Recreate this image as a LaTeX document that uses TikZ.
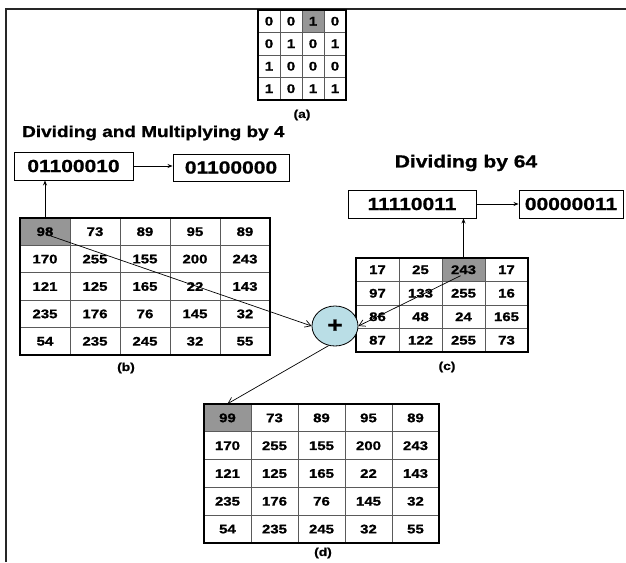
\documentclass[tikz,border=0pt]{standalone}
\usepackage{fontspec}
\setmainfont[FakeStretch=1.2, BoldFeatures={FakeBold=1}]{Liberation Sans}
\usetikzlibrary{arrows.meta,calc,shapes.geometric}
\definecolor{cellgray}{RGB}{150,150,150}
\definecolor{plusblue}{RGB}{186,222,230}
\definecolor{innerline}{RGB}{90,90,90}
\newcommand{\numgrid}[8]{%
  \foreach \i in {1,...,\numexpr#6-1\relax} \draw[gridin] (#2+\i*#4,#3) -- ++(0,#7*#5);
  \foreach \j in {1,...,\numexpr#7-1\relax} \draw[gridin] (#2,#3+\j*#5) -- ++(#6*#4,0);
  \draw[gridout] (#2,#3) rectangle ++(#6*#4,#7*#5);
  \foreach \row [count=\r] in {#8} {
    \foreach \v [count=\c] in \row {
      \node[cell, minimum width=#4, minimum height=#5] (#1-\r-\c) at (#2+\c*#4-0.5*#4, #3+\r*#5-0.5*#5) {\v};
    }
  }
}
\begin{document}
\begin{tikzpicture}[x=1pt,y=-1pt,
  cell/.style={inner sep=0pt, font=\bfseries\fontsize{12.5}{14}\selectfont},
  gridin/.style={draw=innerline, line width=0.9pt},
  gridout/.style={draw=black, line width=2.4pt},
  box/.style={draw=black, line width=0.9pt, inner sep=0pt, font=\bfseries\fontsize{17.5}{19}\selectfont},
  sub/.style={inner sep=0pt, font=\bfseries\fontsize{11.5}{13}\selectfont},
  title/.style={inner sep=0pt, font=\bfseries\fontsize{15.8}{18}\selectfont},
  harr/.style={-{Stealth[length=5pt,width=4pt]}, line width=0.8pt},
  darr/.style={-{Straight Barb[length=6pt,width=7pt]}, line width=0.7pt}
]
\useasboundingbox (0,0) rectangle (626,562);
% frame
\draw[line width=2.2pt, draw=black!85] (6,562) -- (6,9) -- (627,9);

% matrix (a)
\fill[cellgray] (302,10) rectangle ++(22,22.5);
\numgrid{a}{258}{10}{22}{22.5}{4}{4}{{0,0,1,0},{0,1,0,1},{1,0,0,0},{1,0,1,1}}
\node[sub] (la) at (302,115) {(a)};

% title left
\node[title, anchor=west] (t1) at (22,133) {Dividing and Multiplying by 4};
\node[box, minimum width=119, minimum height=28] (box1) at (73.5,166) {01100010};
\node[box, minimum width=116, minimum height=27] (box2) at (231,167.5) {01100000};
\draw[harr] (box1.east) -- (box2.west |- box1.east);

% matrix (b)
\fill[cellgray] (20,218) rectangle ++(50,27.4);
\numgrid{b}{20}{218}{50}{27.4}{5}{5}{{98,73,89,95,89},{170,255,155,200,243},{121,125,165,22,143},{235,176,76,145,32},{54,235,245,32,55}}
\node[sub] (lb) at (126,368) {(b)};
\draw[harr] (b-1-1.north) -- (b-1-1.north |- box1.south);

% title right
\node[title, font=\bfseries\fontsize{17.5}{19}\selectfont] (t2) at (466,163) {Dividing by 64};
\node[box, minimum width=128, minimum height=28] (box3) at (412,204) {11110011};
\node[box, minimum width=104, minimum height=28] (box4) at (571,204) {00000011};
\draw[harr] (box3.east) -- (box4.west);

% matrix (c)
\fill[cellgray] (442,258) rectangle ++(43,23.5);
\numgrid{c}{356}{258}{43}{23.5}{4}{4}{{17,25,243,17},{97,133,255,16},{86,48,24,165},{87,122,255,73}}
\node[sub] (lc) at (447,367) {(c)};
\draw[harr] (c-1-3.north) -- (c-1-3.north |- box3.south);

% plus
\node[ellipse, draw=black, line width=0.8pt, fill=plusblue, minimum width=46, minimum height=40, inner sep=0pt, font=\bfseries\fontsize{22}{22}\selectfont] (plus) at (335,326) {+};

% matrix (d)
\fill[cellgray] (204,404) rectangle ++(47,27.8);
\numgrid{d}{204}{404}{47}{27.8}{5}{5}{{99,73,89,95,89},{170,255,155,200,243},{121,125,165,22,143},{235,176,76,145,32},{54,235,245,32,55}}
\node[sub] (ld) at (323,553) {(d)};

% arrows to / from plus
\draw[darr] ($(b-1-1.center)+(5,4)$) -- (plus.west);
\draw[darr] ($(c-1-3.center)+(-3,6)$) -- (plus.east);
\draw[darr] (plus.-108) -- (d-1-1.north);
\end{tikzpicture}
\end{document}
